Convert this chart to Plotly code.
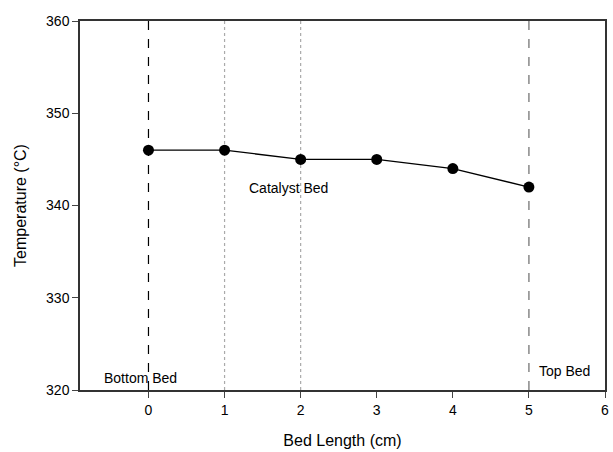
import plotly.graph_objects as go

bed_length = [0, 1, 2, 3, 4, 5]
temperature = [346, 346, 345, 345, 344, 342]
x_ticks = [0, 1, 2, 3, 4, 5, 6]
y_ticks = [320, 330, 340, 350, 360]

fig = go.Figure()
fig.add_trace(go.Scatter(
    x=bed_length, y=temperature, mode="lines+markers",
    line=dict(color="black", width=1.3),
    marker=dict(color="black", size=11),
    showlegend=False,
))

fig.add_vline(x=0, layer="below", line=dict(color="black", width=1.2, dash="dash"))
fig.add_vline(x=1, layer="below", line=dict(color="#aaaaaa", width=1.2, dash="dot"))
fig.add_vline(x=2, layer="below", line=dict(color="#aaaaaa", width=1.2, dash="dot"))
fig.add_vline(x=5, layer="below", line=dict(color="#888888", width=1.5, dash="dash"))

font = dict(family="Liberation Sans, Arial", size=14, color="black")
fig.add_annotation(x=-0.1, y=321.3, text="Bottom Bed", showarrow=False, font=font, xanchor="center")
fig.add_annotation(x=1.84, y=341.9, text="Catalyst Bed", showarrow=False, font=font, xanchor="center")
fig.add_annotation(x=5.1, y=322.1, text="Top Bed", showarrow=False, font=font, xanchor="left")

fig.update_layout(
    width=613, height=452,
    margin=dict(l=80, r=4, t=21, b=62),
    plot_bgcolor="white", paper_bgcolor="white",
    font=font,
    xaxis=dict(range=[-0.9, 6], tickvals=x_ticks, ticks="outside", ticklen=6,
               showline=True, linecolor="#333", linewidth=1.5, mirror=True,
               showgrid=False, zeroline=False,
               title=dict(text="Bed Length (cm)", font=dict(size=16), standoff=18)),
    yaxis=dict(range=[320, 360], tickvals=y_ticks, ticks="outside", ticklen=6,
               showline=True, linecolor="#333", linewidth=1.5, mirror=True,
               showgrid=False, zeroline=False,
               title=dict(text="Temperature (°C)", font=dict(size=16), standoff=15)),
)

fig.write_html("out.html")
